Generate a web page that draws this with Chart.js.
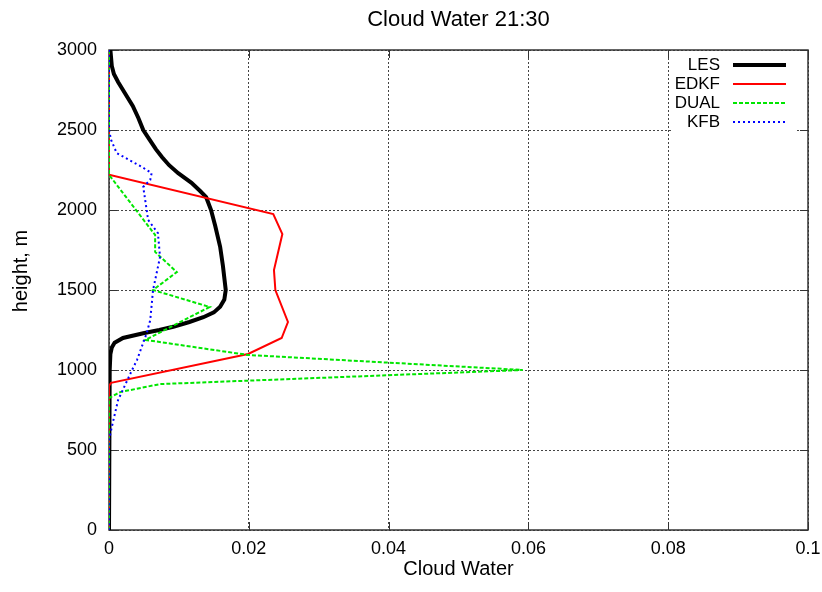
<!DOCTYPE html>
<html>
<head>
<meta charset="utf-8">
<title>Cloud Water 21:30</title>
<script src="https://cdn.jsdelivr.net/npm/chart.js@4.4.1/dist/chart.umd.min.js"></script>
<style>
  html, body { margin: 0; padding: 0; background: #fff; }
  canvas { display: block; }
</style>
</head>
<body>
<canvas id="cloudChart" width="822" height="592"></canvas>
<script>
const FONT = "'Liberation Sans', Arial, sans-serif";

// LES profile: height (m) and cloud water
const lesHeight = [3000, 2900, 2850, 2800, 2750, 2700, 2650, 2575, 2500, 2440, 2380, 2330, 2280, 2230, 2170, 2120, 2080, 2000, 1900, 1770, 1650, 1500, 1440, 1395, 1360, 1330, 1300, 1270, 1250, 1230, 1200, 1170, 1140, 1100, 1000, 0];
const lesValue  = [0.0002, 0.0004, 0.0007, 0.0013, 0.002, 0.0027, 0.0034, 0.0042, 0.0049, 0.0058, 0.0067, 0.0076, 0.0086, 0.0099, 0.0118, 0.013, 0.0139, 0.0146, 0.0152, 0.0159, 0.0163, 0.0167, 0.0165, 0.0159, 0.015, 0.0135, 0.0115, 0.0092, 0.0072, 0.0049, 0.002, 0.0008, 0.0004, 0.0002, 0.0001, 0];

// EDKF
const edkfHeight = [3000, 2220, 1975, 1850, 1625, 1500, 1300, 1200, 1100, 920, 900, 0];
const edkfValue  = [0, 0, 0.0235, 0.0248, 0.0236, 0.0238, 0.0256, 0.0247, 0.0199, 0.0003, 0, 0];

// DUAL
const dualHeight = [3000, 2220, 1844, 1738, 1612, 1500, 1394, 1188, 1094, 1000, 912, 862, 825, 0];
const dualValue  = [0, 0, 0.0066, 0.0066, 0.0097, 0.0063, 0.0144, 0.0052, 0.0199, 0.0592, 0.0073, 0.0016, 0, 0];

// KFB
const kfbHeight = [3000, 2500, 2438, 2356, 2269, 2231, 2188, 2144, 1938, 1856, 1706, 1500, 1312, 1231, 1062, 1000, 812, 644, 560, 0];
const kfbValue  = [0, 0, 0.0003, 0.0011, 0.0047, 0.0061, 0.0059, 0.0049, 0.0056, 0.007, 0.0073, 0.0063, 0.0059, 0.0054, 0.004, 0.0033, 0.0013, 0.0004, 0, 0];

const xTicks = [0, 0.02, 0.04, 0.06, 0.08, 0.1];
const xTickLabels = ['0', '0.02', '0.04', '0.06', '0.08', '0.1'];
const yTicks = [0, 500, 1000, 1500, 2000, 2500, 3000];
const yTickLabels = ['0', '500', '1000', '1500', '2000', '2500', '3000'];

const toPoints = (h, v) => h.map((y, i) => ({ x: v[i], y }));

// frame, inward tick marks, legend box and the y-axis caption
const framePlugin = {
  id: 'frame',
  beforeDatasetsDraw(chart) {
    const { ctx, chartArea: a, scales: { x, y } } = chart;
    ctx.save();
    ctx.strokeStyle = '#333';
    ctx.lineWidth = 1.5;
    ctx.strokeRect(a.left, a.top, a.right - a.left, a.bottom - a.top);

    ctx.lineWidth = 1;
    ctx.beginPath();
    x.ticks.forEach(t => {
      const px = Math.round(x.getPixelForValue(t.value)) + 0.5;
      ctx.moveTo(px, a.bottom); ctx.lineTo(px, a.bottom - 8);
      ctx.moveTo(px, a.top); ctx.lineTo(px, a.top + 8);
    });
    y.ticks.forEach(t => {
      const py = Math.round(y.getPixelForValue(t.value)) + 0.5;
      ctx.moveTo(a.left, py); ctx.lineTo(a.left + 8, py);
      ctx.moveTo(a.right, py); ctx.lineTo(a.right - 8, py);
    });
    ctx.stroke();

    // legend, top right inside the plot
    ctx.fillStyle = '#fff';
    ctx.fillRect(673, a.top + 1, 124, 81);
    ctx.font = '17px ' + FONT;
    ctx.textAlign = 'right';
    ctx.textBaseline = 'middle';
    chart.data.datasets.forEach((ds, i) => {
      const ly = a.top + 15 + i * 19;
      ctx.fillStyle = '#000';
      ctx.fillText(ds.label, 720, ly);
      ctx.strokeStyle = ds.borderColor;
      ctx.lineWidth = ds.borderWidth;
      ctx.setLineDash(ds.borderDash || []);
      ctx.beginPath();
      ctx.moveTo(733, ly);
      ctx.lineTo(786, ly);
      ctx.stroke();
    });
    ctx.setLineDash([]);
    ctx.restore();
  },
  afterDraw(chart) {
    const { ctx } = chart;
    ctx.save();
    ctx.translate(21, 271);
    ctx.rotate(-Math.PI / 2);
    ctx.font = '20px ' + FONT;
    ctx.fillStyle = '#000';
    ctx.textAlign = 'center';
    ctx.textBaseline = 'middle';
    ctx.fillText('height, m', 0, 0);
    ctx.restore();
  }
};

const gridStyle = { color: '#444', lineWidth: 1, drawTicks: false };
const borderStyle = { display: false, dash: [2, 2] };

new Chart(document.getElementById('cloudChart'), {
  type: 'scatter',
  data: {
    datasets: [
      { label: 'LES', data: toPoints(lesHeight, lesValue), borderColor: '#000', backgroundColor: '#000', borderWidth: 4, showLine: true, pointRadius: 0, order: 4 },
      { label: 'EDKF', data: toPoints(edkfHeight, edkfValue), borderColor: '#ff0000', backgroundColor: '#ff0000', borderWidth: 2, showLine: true, pointRadius: 0, order: 3 },
      { label: 'DUAL', data: toPoints(dualHeight, dualValue), borderColor: '#00e600', backgroundColor: '#00e600', borderWidth: 2, borderDash: [4, 2], showLine: true, pointRadius: 0, order: 2 },
      { label: 'KFB', data: toPoints(kfbHeight, kfbValue), borderColor: '#0000ff', backgroundColor: '#0000ff', borderWidth: 2, borderDash: [2, 3], showLine: true, pointRadius: 0, order: 1 }
    ]
  },
  options: {
    responsive: false,
    animation: false,
    devicePixelRatio: 1,
    layout: { padding: { left: 0, right: 14, top: 0, bottom: 0 } },
    plugins: {
      legend: { display: false },
      tooltip: { enabled: false },
      title: {
        display: true,
        fullSize: false,
        text: 'Cloud Water 21:30',
        color: '#000',
        font: { family: FONT, size: 22, weight: 'normal' },
        padding: { top: 6.8, bottom: 16.8 }
      }
    },
    scales: {
      x: {
        type: 'linear',
        min: 0,
        max: 0.1,
        grid: gridStyle,
        border: borderStyle,
        afterBuildTicks: s => { s.ticks = xTicks.map(v => ({ value: v })); },
        afterFit: s => { s.height = 62; s.paddingLeft = 0; s.paddingRight = 0; },
        ticks: {
          color: '#000',
          padding: 8,
          font: { family: FONT, size: 18 },
          callback: v => xTickLabels[xTicks.findIndex(t => Math.abs(t - v) < 1e-9)]
        },
        title: {
          display: true,
          text: 'Cloud Water',
          color: '#000',
          font: { family: FONT, size: 20 },
          padding: { top: 0, bottom: 11 }
        }
      },
      y: {
        type: 'linear',
        min: 0,
        max: 3000,
        grid: gridStyle,
        border: borderStyle,
        afterBuildTicks: s => { s.ticks = yTicks.map(v => ({ value: v })); },
        afterFit: s => { s.width = 109; s.paddingTop = 0; s.paddingBottom = 0; },
        ticks: {
          color: '#000',
          padding: 12,
          font: { family: FONT, size: 18 },
          callback: v => yTickLabels[yTicks.indexOf(v)]
        }
      }
    }
  },
  plugins: [framePlugin]
});
</script>
</body>
</html>
